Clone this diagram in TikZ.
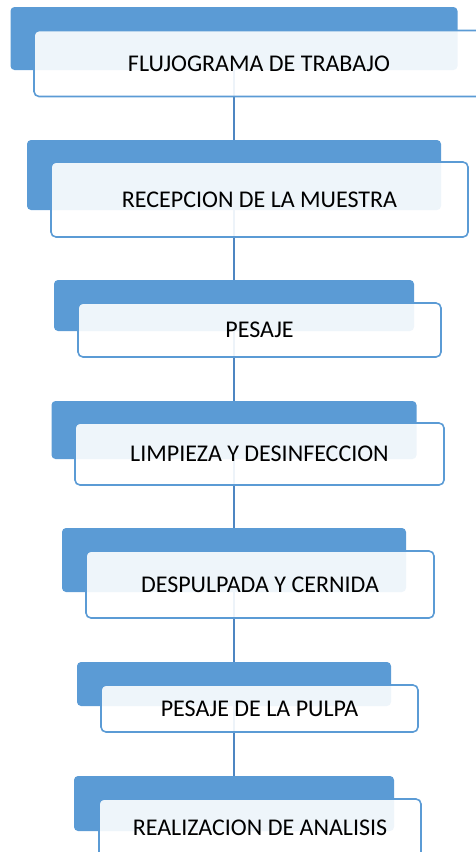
\documentclass[tikz,border=0pt]{standalone}
\usepackage{fontspec}
\setmainfont{Carlito}
\definecolor{boxblue}{HTML}{5B9BD5}
\definecolor{linkblue}{HTML}{4E86C2}
\tikzset{x=1pt,y=-1pt,
  back/.style={fill=boxblue,rounded corners=4pt,inner sep=0pt},
  front/.style={draw=boxblue,line width=1.6pt,fill=white,fill opacity=0.9,text opacity=1,
    rounded corners=5pt,inner sep=0pt,font=\fontsize{24}{28}\selectfont},
  link/.style={draw=linkblue,line width=2pt}}

\begin{document}
\begin{tikzpicture}
  \useasboundingbox (0,0) rectangle (475,852);
  \node[back,minimum width=447pt,minimum height=63pt] (b1) at (234,38.5) {};
  \node[back,minimum width=414pt,minimum height=70pt] (b2) at (234,175) {};
  \node[back,minimum width=360pt,minimum height=51pt] (b3) at (234,305.5) {};
  \node[back,minimum width=365pt,minimum height=58pt] (b4) at (234,430) {};
  \node[back,minimum width=344pt,minimum height=64pt] (b5) at (234,560) {};
  \node[back,minimum width=314pt,minimum height=44pt] (b6) at (234,684) {};
  \node[back,minimum width=320pt,minimum height=55pt] (b7) at (234,803.5) {};

  \path[link]
  (b1) edge (b2)
  (b2) edge (b3)
  (b3) edge (b4)
  (b4) edge (b5)
  (b5) edge (b6)
  (b6) edge (b7)
  ;

  \node[front,minimum width=450pt,minimum height=66pt] (flujo) at (259,63.5) {FLUJOGRAMA DE TRABAJO};
  \node[front,minimum width=417pt,minimum height=75pt] (recepcion) at (259.5,199.5) {RECEPCION DE LA MUESTRA};
  \node[front,minimum width=363pt,minimum height=54pt] (pesaje) at (259.5,330) {PESAJE};
  \node[front,minimum width=369pt,minimum height=62pt] (limpieza) at (259.5,454) {LIMPIEZA Y DESINFECCION};
  \node[front,minimum width=348pt,minimum height=67pt] (despulpada) at (260,584.5) {DESPULPADA Y CERNIDA};
  \node[front,minimum width=317pt,minimum height=47pt] (pulpa) at (259.5,708.5) {PESAJE DE LA PULPA};
  \node[front,minimum width=322pt,minimum height=58pt] (analisis) at (260,828) {REALIZACION DE ANALISIS};
\end{tikzpicture}
\end{document}
